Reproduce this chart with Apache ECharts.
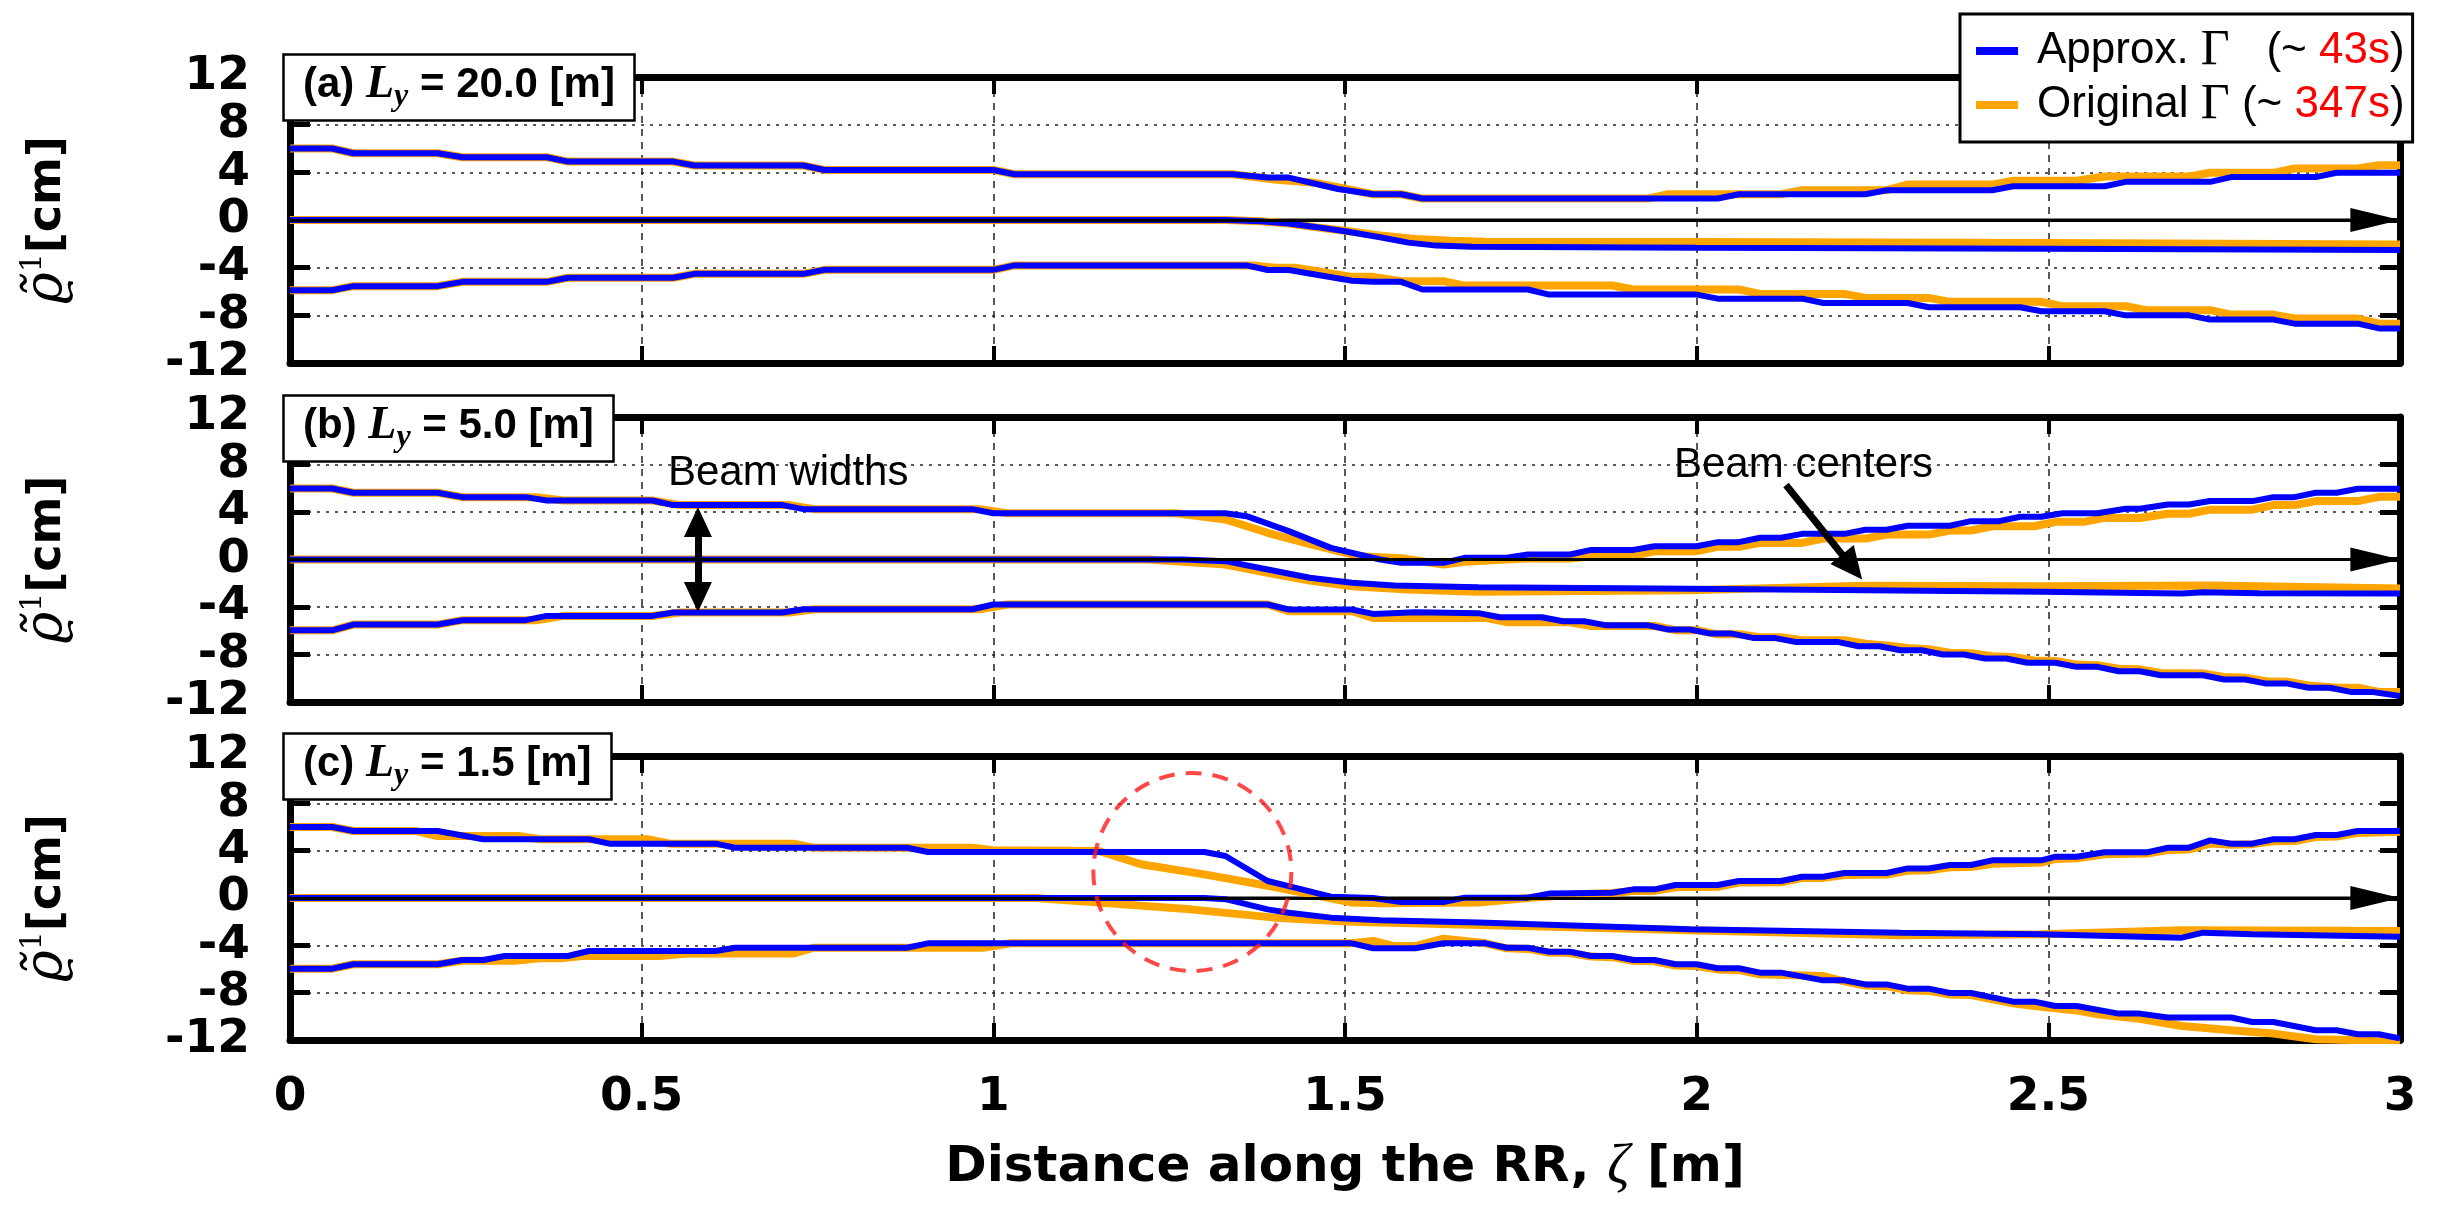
<!DOCTYPE html>
<html>
<head>
<meta charset="utf-8">
<script src="https://cdn.jsdelivr.net/npm/echarts@6/dist/echarts.min.js"></script>
<style>html,body{margin:0;padding:0;background:#fff}#c{width:2442px;height:1219px}</style>
</head>
<body>
<div id="c"></div>
<script>
// ---------------- axis ranges ----------------
const X_MIN = 0, X_MAX = 3, X_STEP = 0.5;
const Y_MIN = -12, Y_MAX = 12, Y_STEP = 4;

// ---------------- text ----------------
const panelTags = ['(a)', '(b)', '(c)'];
const panelLy = ['20.0', '5.0', '1.5'];
const legendNames = ['Approx. Γ', 'Original Γ'];
const legendTimes = ['43s', '347s'];
const xTitle = 'Distance along the RR, ';
const annWidths = 'Beam widths';
const annCenters = 'Beam centers';

// ---------------- panel (a) L_y = 20.0 ----------------
const aUpB = [[0,6.0],[0.06,6.0],[0.09,5.6],[0.21,5.6],[0.245,5.27],[0.365,5.27],[0.395,4.9],[0.545,4.9],[0.575,4.57],[0.73,4.57],[0.76,4.2],[1.0,4.2],[1.03,3.84],[1.34,3.84],[1.39,3.56],[1.42,3.56],[1.49,2.6],[1.54,2.16],[1.58,2.16],[1.61,1.8],[2.03,1.8],[2.06,2.16],[2.24,2.16],[2.27,2.5],[2.42,2.5],[2.45,2.83],[2.58,2.83],[2.61,3.2],[2.73,3.2],[2.76,3.6],[2.88,3.6],[2.91,3.96],[3.0,3.96]];
const aUpO = [[0,6.0],[0.06,6.0],[0.09,5.6],[0.21,5.6],[0.245,5.27],[0.365,5.27],[0.395,4.9],[0.545,4.9],[0.575,4.57],[0.73,4.57],[0.76,4.2],[1.0,4.2],[1.03,3.84],[1.34,3.84],[1.40,3.4],[1.46,3.1],[1.54,2.16],[1.58,2.16],[1.61,1.8],[1.93,1.8],[1.96,2.16],[2.12,2.16],[2.15,2.5],[2.27,2.5],[2.30,2.97],[2.42,2.97],[2.45,3.3],[2.54,3.3],[2.58,3.65],[2.70,3.65],[2.73,3.96],[2.82,3.96],[2.85,4.32],[2.94,4.32],[2.97,4.6],[3.0,4.6]];
const aCtB = [[0,0],[1.33,0],[1.38,-0.1],[1.42,-0.3],[1.46,-0.6],[1.5,-0.95],[1.55,-1.45],[1.59,-1.9],[1.63,-2.15],[1.68,-2.25],[2.0,-2.33],[2.5,-2.41],[3.0,-2.52]];
const aCtO = [[0,0],[1.33,0],[1.38,-0.1],[1.42,-0.3],[1.46,-0.62],[1.5,-0.9],[1.55,-1.3],[1.6,-1.6],[1.65,-1.75],[1.7,-1.82],[2.0,-1.85],[2.5,-1.92],[3.0,-2.05]];
const aLoB = [[0,-5.89],[0.06,-5.89],[0.09,-5.55],[0.21,-5.55],[0.245,-5.19],[0.365,-5.19],[0.395,-4.85],[0.545,-4.85],[0.575,-4.52],[0.73,-4.52],[0.76,-4.18],[1.0,-4.18],[1.03,-3.81],[1.36,-3.81],[1.39,-4.2],[1.42,-4.2],[1.51,-5.1],[1.54,-5.19],[1.58,-5.19],[1.61,-5.83],[1.76,-5.83],[1.79,-6.26],[2.0,-6.26],[2.03,-6.6],[2.15,-6.6],[2.18,-6.96],[2.30,-6.96],[2.33,-7.32],[2.46,-7.32],[2.49,-7.66],[2.58,-7.66],[2.61,-8.0],[2.70,-8.0],[2.73,-8.36],[2.82,-8.36],[2.85,-8.7],[2.94,-8.7],[2.97,-9.1],[3.0,-9.1]];
const aLoO = [[0,-5.89],[0.06,-5.89],[0.09,-5.55],[0.21,-5.55],[0.245,-5.19],[0.365,-5.19],[0.395,-4.85],[0.545,-4.85],[0.575,-4.52],[0.73,-4.52],[0.76,-4.18],[1.0,-4.18],[1.03,-3.81],[1.37,-3.81],[1.40,-4.0],[1.43,-4.0],[1.51,-4.77],[1.54,-4.77],[1.58,-5.13],[1.64,-5.13],[1.67,-5.5],[1.88,-5.5],[1.91,-5.83],[2.06,-5.83],[2.09,-6.2],[2.21,-6.2],[2.24,-6.54],[2.33,-6.54],[2.36,-6.87],[2.49,-6.87],[2.52,-7.24],[2.61,-7.24],[2.64,-7.57],[2.73,-7.57],[2.76,-7.94],[2.82,-7.94],[2.85,-8.27],[2.94,-8.27],[2.97,-8.7],[3.0,-8.7]];

// ---------------- panel (b) L_y = 5.0 ----------------
const bUpB = [[0,5.98],[0.06,5.98],[0.09,5.62],[0.21,5.62],[0.245,5.25],[0.335,5.25],[0.365,4.97],[0.515,4.97],[0.545,4.58],[0.70,4.58],[0.73,4.24],[0.97,4.24],[1.0,3.9],[1.33,3.9],[1.36,3.65],[1.42,2.39],[1.48,0.98],[1.55,0.0],[1.58,-0.28],[1.64,-0.28],[1.67,0.14],[1.73,0.14],[1.76,0.42],[1.82,0.42],[1.85,0.81],[1.91,0.81],[1.94,1.12],[2.0,1.12],[2.03,1.46],[2.06,1.46],[2.09,1.83],[2.12,1.83],[2.15,2.16],[2.21,2.16],[2.24,2.5],[2.27,2.5],[2.30,2.84],[2.36,2.84],[2.39,3.23],[2.43,3.23],[2.46,3.6],[2.49,3.6],[2.52,3.9],[2.57,3.9],[2.61,4.27],[2.63,4.27],[2.67,4.63],[2.70,4.63],[2.73,4.92],[2.79,4.92],[2.82,5.25],[2.85,5.25],[2.88,5.62],[2.91,5.62],[2.94,5.96],[3.0,5.96]];
const bUpO = [[0,5.98],[0.06,5.98],[0.09,5.62],[0.21,5.62],[0.245,5.25],[0.35,5.25],[0.39,4.97],[0.515,4.97],[0.555,4.58],[0.71,4.58],[0.745,4.24],[0.98,4.24],[1.02,3.9],[1.26,3.9],[1.33,3.37],[1.39,2.25],[1.45,1.3],[1.52,0.28],[1.58,0.1],[1.64,-0.42],[1.67,-0.2],[1.73,0.0],[1.76,0.08],[1.82,0.08],[1.85,0.28],[1.91,0.28],[1.94,0.7],[2.0,0.7],[2.03,1.07],[2.06,1.07],[2.09,1.4],[2.15,1.4],[2.18,1.77],[2.24,1.77],[2.27,2.1],[2.33,2.1],[2.36,2.44],[2.39,2.44],[2.42,2.8],[2.48,2.8],[2.51,3.17],[2.55,3.17],[2.58,3.5],[2.63,3.5],[2.67,3.85],[2.70,3.85],[2.73,4.2],[2.79,4.2],[2.82,4.58],[2.85,4.58],[2.88,4.92],[2.94,4.92],[2.97,5.28],[3.0,5.28]];
const bCtB = [[0,0],[1.27,0],[1.33,-0.14],[1.39,-0.84],[1.45,-1.54],[1.51,-1.95],[1.57,-2.19],[1.69,-2.33],[1.99,-2.47],[2.49,-2.72],[2.69,-2.87],[2.72,-2.75],[2.8,-2.85],[3.0,-2.87]];
const bCtO = [[0,0],[1.22,0],[1.33,-0.42],[1.39,-1.12],[1.45,-1.77],[1.51,-2.25],[1.59,-2.53],[1.69,-2.72],[1.99,-2.58],[2.24,-2.2],[2.49,-2.25],[2.73,-2.19],[3.0,-2.44]];
const bLoB = [[0,-5.96],[0.06,-5.96],[0.09,-5.48],[0.21,-5.48],[0.245,-5.11],[0.335,-5.11],[0.365,-4.75],[0.515,-4.75],[0.545,-4.47],[0.70,-4.47],[0.73,-4.19],[0.97,-4.19],[1.0,-3.79],[1.39,-3.79],[1.42,-4.21],[1.51,-4.21],[1.54,-4.58],[1.60,-4.44],[1.69,-4.52],[1.72,-4.86],[1.78,-4.86],[1.81,-5.2],[1.84,-5.2],[1.87,-5.53],[1.93,-5.53],[1.96,-5.9],[1.99,-5.9],[2.02,-6.24],[2.05,-6.24],[2.08,-6.6],[2.11,-6.6],[2.14,-6.94],[2.20,-6.94],[2.23,-7.3],[2.26,-7.3],[2.29,-7.64],[2.32,-7.64],[2.35,-8.0],[2.38,-8.0],[2.41,-8.34],[2.44,-8.34],[2.47,-8.7],[2.51,-8.7],[2.54,-9.04],[2.57,-9.04],[2.60,-9.41],[2.63,-9.41],[2.66,-9.75],[2.72,-9.75],[2.75,-10.1],[2.78,-10.1],[2.81,-10.45],[2.84,-10.45],[2.87,-10.8],[2.90,-10.8],[2.93,-11.15],[2.96,-11.15],[3.0,-11.5]];
const bLoO = [[0,-5.96],[0.06,-5.96],[0.09,-5.48],[0.21,-5.48],[0.245,-5.11],[0.35,-5.11],[0.39,-4.75],[0.515,-4.75],[0.555,-4.47],[0.71,-4.47],[0.745,-4.19],[0.98,-4.19],[1.02,-3.79],[1.39,-3.79],[1.42,-4.35],[1.51,-4.35],[1.54,-4.92],[1.70,-4.92],[1.73,-5.28],[1.82,-5.28],[1.85,-5.6],[1.94,-5.6],[1.97,-5.95],[2.0,-5.95],[2.03,-6.3],[2.06,-6.3],[2.09,-6.55],[2.12,-6.55],[2.15,-6.8],[2.21,-6.8],[2.24,-7.1],[2.27,-7.25],[2.30,-7.45],[2.33,-7.55],[2.36,-7.85],[2.39,-7.9],[2.42,-8.15],[2.45,-8.2],[2.48,-8.5],[2.51,-8.55],[2.54,-8.85],[2.57,-8.9],[2.60,-9.2],[2.63,-9.25],[2.66,-9.55],[2.72,-9.6],[2.75,-9.9],[2.78,-9.95],[2.81,-10.25],[2.84,-10.3],[2.87,-10.6],[2.91,-10.8],[2.94,-10.8],[2.97,-11.15],[3.0,-11.15]];

// ---------------- panel (c) L_y = 1.5 ----------------
const cUpB = [[0,6.0],[0.06,6.0],[0.09,5.66],[0.21,5.66],[0.275,4.96],[0.425,4.96],[0.454,4.59],[0.605,4.59],[0.633,4.25],[0.877,4.25],[0.907,3.89],[1.30,3.89],[1.33,3.55],[1.39,1.44],[1.42,1.01],[1.48,0.11],[1.54,0.0],[1.58,-0.34],[1.64,-0.34],[1.67,0.03],[1.76,0.03],[1.79,0.37],[1.88,0.45],[1.91,0.73],[1.94,0.73],[1.97,1.1],[2.03,1.1],[2.06,1.44],[2.12,1.44],[2.15,1.8],[2.18,1.8],[2.21,2.11],[2.27,2.11],[2.30,2.5],[2.33,2.5],[2.36,2.79],[2.39,2.79],[2.42,3.18],[2.49,3.18],[2.51,3.49],[2.54,3.49],[2.58,3.86],[2.64,3.86],[2.67,4.25],[2.70,4.25],[2.73,4.87],[2.76,4.59],[2.79,4.59],[2.82,4.96],[2.85,4.96],[2.88,5.32],[2.91,5.32],[2.94,5.66],[3.0,5.66]];
const cUpO = [[0,6.0],[0.06,6.0],[0.09,5.66],[0.18,5.66],[0.21,5.24],[0.325,5.24],[0.355,4.96],[0.51,4.96],[0.54,4.59],[0.715,4.59],[0.745,4.25],[0.97,4.25],[1.0,4.03],[1.15,3.97],[1.21,2.85],[1.30,2.0],[1.40,0.93],[1.51,-0.39],[1.55,-0.45],[1.69,-0.39],[1.76,0.0],[1.84,0.34],[1.88,0.42],[1.91,0.6],[1.94,0.6],[1.97,0.9],[2.03,0.95],[2.06,1.3],[2.12,1.33],[2.15,1.7],[2.18,1.7],[2.21,1.95],[2.27,1.98],[2.30,2.3],[2.33,2.35],[2.36,2.6],[2.39,2.62],[2.42,2.9],[2.49,3.0],[2.51,3.3],[2.54,3.35],[2.58,3.7],[2.64,3.75],[2.67,4.05],[2.70,4.1],[2.73,4.6],[2.76,4.5],[2.79,4.55],[2.82,4.8],[2.85,4.82],[2.88,5.15],[2.91,5.2],[2.94,5.5],[3.0,5.6]];
const cCtB = [[0,0],[1.30,0],[1.33,-0.1],[1.39,-0.96],[1.42,-1.24],[1.48,-1.66],[1.55,-1.89],[1.69,-2.08],[1.99,-2.65],[2.29,-2.93],[2.49,-3.07],[2.69,-3.35],[2.72,-2.93],[2.79,-3.07],[3.0,-3.27]];
const cCtO = [[0,0],[1.06,0],[1.15,-0.39],[1.28,-0.96],[1.40,-1.66],[1.51,-2.0],[1.99,-2.73],[2.29,-3.15],[2.49,-3.07],[2.69,-2.73],[3.0,-2.79]];
const cLoB = [[0,-5.97],[0.06,-5.97],[0.09,-5.6],[0.21,-5.6],[0.245,-5.24],[0.275,-5.24],[0.305,-4.9],[0.395,-4.9],[0.425,-4.48],[0.605,-4.48],[0.633,-4.2],[0.877,-4.2],[0.907,-3.83],[1.51,-3.83],[1.54,-4.25],[1.60,-4.25],[1.64,-3.83],[1.70,-3.83],[1.73,-4.2],[1.76,-4.2],[1.79,-4.54],[1.82,-4.54],[1.85,-4.9],[1.88,-4.9],[1.91,-5.24],[1.94,-5.24],[1.97,-5.6],[2.0,-5.6],[2.03,-5.94],[2.06,-5.94],[2.09,-6.31],[2.12,-6.31],[2.18,-6.96],[2.21,-6.96],[2.24,-7.3],[2.27,-7.3],[2.30,-7.66],[2.33,-7.66],[2.36,-8.03],[2.39,-8.03],[2.45,-8.76],[2.48,-8.76],[2.51,-9.13],[2.54,-9.13],[2.60,-9.77],[2.63,-9.77],[2.67,-10.1],[2.76,-10.1],[2.79,-10.48],[2.82,-10.48],[2.88,-11.18],[2.91,-11.18],[2.94,-11.52],[2.97,-11.52],[3.0,-11.86]];
const cLoO = [[0,-5.97],[0.06,-5.97],[0.09,-5.6],[0.21,-5.6],[0.245,-5.3],[0.32,-5.3],[0.355,-5.1],[0.385,-5.1],[0.415,-4.9],[0.525,-4.9],[0.565,-4.7],[0.715,-4.7],[0.745,-4.2],[0.985,-4.2],[1.025,-3.83],[1.51,-3.83],[1.54,-3.63],[1.57,-4.06],[1.60,-4.06],[1.64,-3.44],[1.67,-3.63],[1.70,-3.83],[1.73,-4.25],[1.76,-4.3],[1.79,-4.6],[1.82,-4.65],[1.85,-4.95],[1.88,-5.0],[1.91,-5.3],[1.94,-5.35],[1.97,-5.7],[2.0,-5.75],[2.03,-6.05],[2.06,-6.1],[2.09,-6.45],[2.18,-6.6],[2.21,-7.05],[2.24,-7.4],[2.27,-7.45],[2.30,-7.8],[2.33,-7.85],[2.36,-8.15],[2.39,-8.2],[2.45,-8.9],[2.48,-9.13],[2.54,-9.5],[2.57,-9.83],[2.63,-10.2],[2.69,-10.82],[2.76,-11.18],[2.82,-11.46],[2.88,-11.94],[3.0,-12.08]];

// ---------------- annotations (data coordinates) ----------------
const zeroArrow = [[0, 0], [2.965, 0]];
const widthArrow = [[0.58, 3.16], [0.58, -3.16]];
const centerArrow = [[2.127, 6.27], [2.221, -0.63]];
const dashedCircle = [[1.283, 2.2]];

const panels = [
  { blue: [aUpB, aCtB, aLoB], orange: [aUpO, aCtO, aLoO] },
  { blue: [bUpB, bCtB, bLoB], orange: [bUpO, bCtO, bLoO] },
  { blue: [cUpB, cCtB, cLoB], orange: [cUpO, cCtO, cLoO] }
];

// ---------------- layout ----------------
const BLUE = '#0000ff', ORANGE = '#ffa500';
const gridTops = [77, 417, 756];
const gridHeights = [286, 285, 284];
const boxTops = [49, 390, 728];
const TICK_FONT = 'DejaVu Sans';

const grids = [], xAxes = [], yAxes = [], series = [], titles = [];

panels.forEach((p, i) => {
  grids.push({ left: 290, right: 42, top: gridTops[i], height: gridHeights[i] });
  const isLast = i === panels.length - 1;
  // bottom x
  xAxes.push({
    gridIndex: i, type: 'value', min: X_MIN, max: X_MAX, interval: X_STEP, position: 'bottom',
    axisLine: { show: true, onZero: false, lineStyle: { color: '#000', width: 7 } },
    axisTick: { show: true, inside: true, length: 17, lineStyle: { color: '#000', width: 4 } },
    axisLabel: { show: isLast, margin: 34, color: '#000', fontFamily: TICK_FONT, fontWeight: 'bold', fontSize: 47 },
    splitLine: { show: true, lineStyle: { color: '#222', width: 1.5, type: [7, 6] } },
    name: isLast ? '{b|' + xTitle + '}{z|ζ}{b| [m]}' : '',
    nameLocation: 'middle', nameGap: 100,
    nameTextStyle: { rich: {
      b: { fontFamily: TICK_FONT, fontWeight: 'bold', fontSize: 50, color: '#000' },
      z: { fontFamily: 'Liberation Serif', fontStyle: 'italic', fontSize: 56, color: '#000' }
    } }
  });
  // top x
  xAxes.push({
    gridIndex: i, type: 'value', min: X_MIN, max: X_MAX, interval: X_STEP, position: 'top',
    axisLine: { show: true, onZero: false, lineStyle: { color: '#000', width: 7 } },
    axisTick: { show: true, inside: true, length: 17, lineStyle: { color: '#000', width: 4 } },
    axisLabel: { show: false }, splitLine: { show: false }
  });
  // left y
  yAxes.push({
    gridIndex: i, type: 'value', min: Y_MIN, max: Y_MAX, interval: Y_STEP, position: 'left',
    axisLine: { show: true, onZero: false, lineStyle: { color: '#000', width: 7 } },
    axisTick: { show: true, inside: true, length: 20, lineStyle: { color: '#000', width: 5 } },
    axisLabel: { show: true, margin: 40, color: '#000', fontFamily: TICK_FONT, fontWeight: 'bold', fontSize: 47 },
    splitLine: { show: true, lineStyle: { color: '#222', width: 1.5, type: [3, 6] } },
    name: '{r|ϱ̃}{s|1}{b|[cm]}', nameLocation: 'middle', nameRotate: 90, nameGap: 212,
    nameTextStyle: { rich: {
      r: { fontFamily: 'DejaVu Serif', fontStyle: 'italic', fontSize: 54, color: '#000', lineHeight: 60 },
      s: { fontFamily: 'DejaVu Serif', fontSize: 30, color: '#000', verticalAlign: 'top', lineHeight: 60 },
      b: { fontFamily: TICK_FONT, fontWeight: 'bold', fontSize: 46, color: '#000', lineHeight: 60 }
    } }
  });
  // right y
  yAxes.push({
    gridIndex: i, type: 'value', min: Y_MIN, max: Y_MAX, interval: Y_STEP, position: 'right',
    axisLine: { show: true, onZero: false, lineStyle: { color: '#000', width: 7 } },
    axisTick: { show: true, inside: true, length: 20, lineStyle: { color: '#000', width: 5 } },
    axisLabel: { show: false }, splitLine: { show: false }
  });

  const xi = 2 * i, yi = 2 * i;
  // zero-line arrow
  series.push({
    type: 'line', xAxisIndex: xi, yAxisIndex: yi, data: zeroArrow, showSymbol: false, silent: true, z: 1,
    lineStyle: { color: '#000', width: 3 },
    markLine: {
      silent: true, animation: false, symbol: ['none', 'triangle'], symbolSize: [24, 50],
      label: { show: false }, lineStyle: { color: '#000', width: 3, type: 'solid' },
      data: [[{ coord: zeroArrow[0] }, { coord: zeroArrow[1] }]]
    }
  });
  p.orange.forEach(d => series.push({
    type: 'line', name: legendNames[1], xAxisIndex: xi, yAxisIndex: yi, data: d, showSymbol: false, z: 2,
    color: ORANGE, itemStyle: { color: ORANGE }, lineStyle: { color: ORANGE, width: 8 }
  }));
  p.blue.forEach(d => series.push({
    type: 'line', name: legendNames[0], xAxisIndex: xi, yAxisIndex: yi, data: d, showSymbol: false, z: 3,
    color: BLUE, itemStyle: { color: BLUE }, lineStyle: { color: BLUE, width: 6 }
  }));

  titles.push({
    text: '{p|' + panelTags[i] + ' }{L|L}{y|y}{p| = ' + panelLy[i] + ' [m]}',
    left: 283, top: boxTops[i], padding: [8, 20, 8, 20],
    backgroundColor: '#fff', borderColor: '#000', borderWidth: 2.5, z: 8,
    textStyle: { rich: {
      p: { fontFamily: 'Liberation Sans', fontWeight: 'bold', fontSize: 42, color: '#000', lineHeight: 56 },
      L: { fontFamily: 'Liberation Serif', fontStyle: 'italic', fontSize: 46, color: '#000', lineHeight: 56 },
      y: { fontFamily: 'Liberation Serif', fontStyle: 'italic', fontSize: 32, color: '#000', lineHeight: 30, verticalAlign: 'bottom' }
    } }
  });
});

// Beam width / centre arrows in panel (b)
series.push({
  type: 'line', xAxisIndex: 2, yAxisIndex: 2, data: [], showSymbol: false, silent: true, z: 5,
  markLine: {
    silent: true, animation: false, label: { show: false },
    lineStyle: { color: '#000', width: 7, type: 'solid' },
    symbol: ['triangle', 'triangle'], symbolSize: [28, 30],
    data: [
      [{ coord: widthArrow[0] }, { coord: widthArrow[1] }],
      [{ coord: centerArrow[0], symbol: 'none' }, { coord: centerArrow[1], symbol: 'triangle', symbolSize: [30, 32] }]
    ]
  }
});
// Red dashed circle in panel (c)
series.push({
  type: 'scatter', xAxisIndex: 4, yAxisIndex: 4, data: dashedCircle, symbol: 'circle', symbolSize: 198,
  silent: true, z: 6,
  itemStyle: { color: 'rgba(0,0,0,0)', borderColor: '#ff1a1a', borderWidth: 4, borderType: [16, 11] }
});

const option = {
  animation: false,
  backgroundColor: '#fff',
  grid: grids, xAxis: xAxes, yAxis: yAxes, series: series, title: titles,
  legend: {
    data: [{ name: legendNames[0], icon: 'rect' }, { name: legendNames[1], icon: 'rect' }],
    orient: 'vertical', left: 1960, top: 14, z: 10,
    backgroundColor: '#fff', borderColor: '#000', borderWidth: 3,
    padding: [12, 8, 12, 16], itemWidth: 42, itemHeight: 8, itemGap: 4,
    selectedMode: false,
    formatter: function (name) {
      if (name === legendNames[0]) return '{a|Approx. }{g|Γ}{t|   (~ }{r|' + legendTimes[0] + '}{t|)}';
      return '{a|Original }{g|Γ}{t| (~ }{r|' + legendTimes[1] + '}{t|)}';
    },
    textStyle: { color: '#000', rich: {
      a: { fontFamily: 'Liberation Sans', fontSize: 44, color: '#000', padding: [0, 0, 0, 14], lineHeight: 50 },
      g: { fontFamily: 'Liberation Serif', fontSize: 50, color: '#000', lineHeight: 50 },
      t: { fontFamily: 'Liberation Sans', fontSize: 44, color: '#000', lineHeight: 50 },
      r: { fontFamily: 'Liberation Sans', fontSize: 44, color: '#ff0000', lineHeight: 50 }
    } }
  },
  graphic: [
    { type: 'text', x: 668, y: 473, z: 20, style: { text: annWidths, fontFamily: 'Liberation Sans', fontSize: 42, fill: '#000', verticalAlign: 'middle' } },
    { type: 'text', x: 1674, y: 465, z: 20, style: { text: annCenters, fontFamily: 'Liberation Sans', fontSize: 42, fill: '#000', verticalAlign: 'middle' } }
  ]
};

const chart = echarts.init(document.getElementById('c'));
chart.setOption(option);
</script>
</body>
</html>
